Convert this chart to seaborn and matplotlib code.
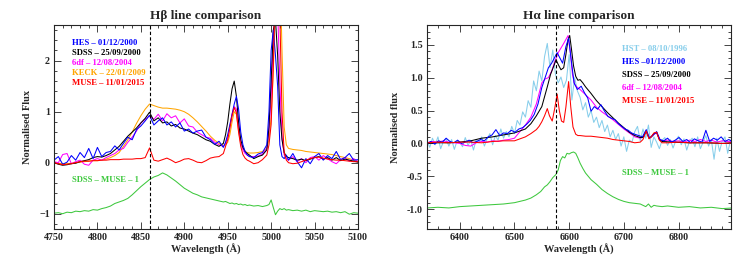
import numpy as np
import pandas as pd
import matplotlib
matplotlib.use('Agg')
import matplotlib.pyplot as plt
import seaborn as sns
from matplotlib.ticker import MultipleLocator, FormatStrFormatter

# ---------------- H-beta panel data ----------------
hb_wave = [4750, 4755, 4760, 4765, 4770, 4775, 4780, 4785, 4790, 4795,
           4800, 4805, 4810, 4815, 4820, 4825, 4830, 4835, 4840, 4845,
           4850, 4855, 4860, 4865, 4870, 4875, 4880, 4885, 4890, 4895,
           4900, 4905, 4910, 4915, 4920, 4925, 4930, 4935, 4940,
           4945, 4947.5, 4950, 4952.5, 4955, 4957.5, 4960, 4962.5, 4965, 4967.5, 4970, 4972.5, 4975,
           4980, 4985, 4990, 4995,
           4997.5, 5000, 5002.5, 5005, 5007.5, 5010, 5012.5, 5015, 5017.5,
           5020, 5025, 5030, 5035, 5040, 5045, 5050, 5055, 5060, 5065, 5070, 5075, 5080, 5085, 5090, 5095, 5100]

hb_hes = [0.05, 0.12, -0.03, 0.01, 0.14, 0.05, 0.20, 0.10, 0.28, 0.08,
          0.30, 0.12, 0.20, 0.22, 0.33, 0.25, 0.38, 0.50, 0.45, 0.65,
          0.72, 0.82, 0.93, 0.74, 0.82, 0.88, 0.74, 0.80, 0.70, 0.78,
          0.62, 0.66, 0.58, 0.62, 0.64, 0.50, 0.45, 0.36, 0.42,
          0.30, 0.40, 0.55, 0.75, 0.95, 1.15, 1.30, 1.05, 0.60, 0.35, 0.22, 0.15, 0.12,
          0.10, 0.17, 0.20, 0.35,
          1.0, 2.2, 2.6, 2.1, 1.5, 0.35, 0.12, 0.08, 0.15,
          0.05, 0.18, 0.02, -0.10, 0.08, -0.02, 0.12, 0.18, 0.05, 0.14, 0.08, 0.22, 0.06, 0.10, 0.18, 0.05, 0.06]

hb_sdss = [0.00, -0.03, -0.05, -0.04, -0.02, -0.01, 0.02, 0.04, 0.06, 0.10,
           0.12, 0.11, 0.14, 0.18, 0.25, 0.32, 0.42, 0.52, 0.60, 0.68,
           0.78, 0.87, 0.99, 0.82, 0.88, 0.78, 0.80, 0.72, 0.75, 0.68,
           0.66, 0.62, 0.58, 0.55, 0.50, 0.45, 0.42, 0.36, 0.32,
           0.38, 0.55, 0.80, 1.15, 1.45, 1.60, 1.30, 0.80, 0.45, 0.30, 0.22, 0.18, 0.15,
           0.08, 0.12, 0.15, 0.25,
           0.7, 1.6, 2.6, 2.8, 2.1, 1.0, 0.45, 0.2, 0.12,
           0.10, 0.08, 0.05, 0.07, 0.04, 0.07, 0.10, 0.12, 0.07, 0.10, 0.05, 0.10, 0.04, 0.07, 0.05, 0.03, 0.01]

hb_6df = [0.02, 0.00, 0.16, 0.18, -0.02, 0.02, 0.05, -0.03, -0.05, 0.05,
          0.08, 0.05, 0.10, 0.14, 0.18, 0.25, 0.28, 0.40, 0.50, 0.62,
          0.78, 0.85, 0.92, 0.85, 0.95, 0.82, 0.96, 0.88, 0.92, 0.78,
          0.86, 0.72, 0.70, 0.60, 0.55, 0.50, 0.48, 0.40, 0.35,
          0.32, 0.38, 0.50, 0.70, 0.95, 1.10, 1.05, 0.70, 0.40, 0.25, 0.18, 0.15, 0.12,
          0.12, 0.13, 0.17, 0.28,
          0.6, 1.3, 2.4, 3.3, 3.0, 1.6, 0.5, 0.15, 0.08,
          0.05, 0.12, 0.02, 0.08, 0.00, 0.10, 0.12, 0.05, 0.14, 0.08, 0.02, -0.02, 0.06, 0.10, 0.03, 0.08, 0.02]

hb_keck = [0.00, -0.01, -0.02, -0.02, -0.01, 0.00, 0.01, 0.02, 0.03, 0.04,
           0.04, 0.05, 0.07, 0.10, 0.14, 0.20, 0.32, 0.45, 0.60, 0.77,
           0.92, 1.05, 1.15, 1.12, 1.09, 1.07, 1.07, 1.06, 1.05, 1.03,
           1.00, 0.95, 0.88, 0.80, 0.71, 0.62, 0.52, 0.44, 0.38,
           0.34, 0.35, 0.40, 0.55, 0.80, 1.00, 0.95, 0.62, 0.38, 0.28, 0.22, 0.20, 0.19,
           0.19, 0.20, 0.22, 0.28,
           0.45, 0.9, 1.8, 3.2, 4.5, 4.0, 2.2, 0.7, 0.35,
           0.28, 0.26, 0.25, 0.24, 0.22, 0.21, 0.20, 0.19, 0.18, 0.17, 0.16, 0.14, 0.12, 0.10, 0.08, 0.05, 0.03]

hb_muse = [0.00, -0.02, -0.04, -0.03, -0.02, 0.00, 0.02, 0.03, 0.03, 0.04,
           0.04, 0.05, 0.05, 0.06, 0.06, 0.06, 0.07, 0.07, 0.07, 0.08,
           0.08, 0.10, 0.29, 0.05, 0.03, 0.06, 0.09, 0.05, 0.00, 0.03,
           0.07, 0.08, 0.05, 0.01, 0.00, 0.04, 0.09, 0.11, 0.12,
           0.18, 0.32, 0.45, 0.68, 0.92, 1.08, 0.98, 0.60, 0.32, 0.16, 0.09, 0.05, 0.03,
           -0.02, 0.00, 0.06, 0.15,
           0.35, 0.75, 1.9, 3.6, 4.2, 2.9, 1.0, 0.2, 0.05,
           0.00, -0.02, -0.01, 0.02, 0.05, 0.08, 0.10, 0.11, 0.09, 0.07, 0.06, 0.05, 0.05, 0.04, 0.03, 0.02, 0.02]

hb_diff = [-0.99, -0.98, -1.00, -0.97, -0.98, -0.95, -0.96, -0.94, -0.95, -0.92,
           -0.93, -0.90, -0.88, -0.85, -0.80, -0.77, -0.74, -0.70, -0.63, -0.55,
           -0.47, -0.40, -0.33, -0.28, -0.25, -0.20, -0.24, -0.30, -0.36, -0.43,
           -0.50, -0.55, -0.60, -0.63, -0.67, -0.69, -0.71, -0.73, -0.75,
           -0.77, -0.76, -0.78, -0.80, -0.79, -0.81, -0.80, -0.82, -0.81, -0.83, -0.82, -0.84, -0.83,
           -0.85, -0.84, -0.86, -0.84,
           -0.82, -0.73, -0.88, -1.02, -0.95, -0.90, -0.92, -0.90, -0.93,
           -0.92, -0.94, -0.93, -0.95, -0.93, -0.96, -0.94, -0.95, -0.96, -0.95, -0.97, -0.96, -0.98, -0.96, -1.01, -0.98, -0.99]

# ---------------- H-alpha panel data ----------------
ha_hst_wave = list(range(6340, 6901, 5))
ha_hst = [0.05, -0.06, 0.08, -0.02, 0.10, -0.08, 0.03, 0.07, -0.04, 0.06,
          -0.09, 0.04, 0.02, -0.05, 0.09, -0.03, 0.05, -0.10, 0.06, 0.01,
          0.10, -0.04, 0.07, 0.15, -0.02, 0.12, 0.05, 0.22, 0.08, 0.18,
          0.10, 0.26, 0.15, 0.35, 0.28, 0.48, 0.40, 0.65, 0.55, 0.95,
          0.80, 1.10, 0.95, 1.32, 1.52, 1.15, 1.42, 1.05, 0.92, 1.01,
          0.85, 0.96, 1.35, 0.66, 1.00, 0.80, 0.70, 0.51, 0.62, 0.40,
          0.50, 0.32, 0.40, 0.24, 0.35, 0.18, 0.28, 0.10, 0.20, 0.06,
          0.15, -0.04, 0.10, -0.12, 0.05, 0.02, 0.18, 0.26, 0.04, 0.22,
          0.08, 0.28, -0.06, 0.10, 0.02, -0.08, 0.05, 0.09, -0.03, 0.06,
          -0.07, 0.04, 0.11, -0.02, 0.07, -0.10, 0.03, 0.08, -0.05, 0.10,
          -0.08, 0.02, 0.12, -0.04, 0.06, -0.24, 0.08, -0.12, 0.04, 0.10,
          -0.15, 0.05, -0.08]

ha_hes_wave = [6340, 6347, 6354, 6361, 6368, 6375, 6382, 6389, 6396, 6403,
               6410, 6417, 6424, 6431, 6438, 6445, 6452, 6459, 6466, 6473,
               6480, 6487, 6494, 6501, 6508, 6515, 6522, 6529, 6536, 6543,
               6550, 6556, 6562, 6568, 6573, 6578, 6583, 6588, 6594, 6599,
               6603, 6609, 6615, 6622, 6628, 6634, 6640, 6646, 6652, 6658,
               6664, 6671, 6678, 6684, 6690, 6696, 6702, 6708, 6714, 6720,
               6727, 6734, 6741, 6747, 6753, 6760, 6766, 6773, 6780, 6787,
               6794, 6801, 6808, 6815, 6822, 6829, 6836, 6843, 6850, 6857,
               6864, 6871, 6878, 6885, 6892, 6900]
ha_hes = [0.00, 0.03, -0.01, 0.04, 0.02, 0.08, 0.03, 0.01, 0.05, 0.00,
          0.02, 0.05, 0.01, 0.03, 0.06, 0.04, 0.10, 0.13, 0.21, 0.12,
          0.16, 0.15, 0.20, 0.17, 0.22, 0.24, 0.29, 0.35, 0.44, 0.60,
          0.85, 1.00, 1.15, 1.22, 1.30, 1.38, 1.30, 1.22, 1.47, 1.60,
          1.32, 0.92, 0.82, 0.87, 0.77, 0.69, 0.49, 0.56, 0.52, 0.59,
          0.50, 0.41, 0.38, 0.36, 0.30, 0.26, 0.22, 0.20, 0.16, 0.14,
          0.12, 0.10, 0.21, 0.08, 0.12, 0.18, 0.06, 0.04, 0.08, 0.02,
          0.05, 0.09, 0.03, 0.06, 0.01, 0.07, 0.04, 0.02, 0.20, 0.03,
          0.08, 0.05, 0.10, 0.03, 0.06, 0.02]

ha_sdss_wave = [6340, 6360, 6380, 6400, 6420, 6440, 6460, 6480, 6500, 6510,
                6520, 6530, 6540, 6550, 6560, 6566, 6572, 6576, 6580, 6585,
                6590, 6594, 6598, 6601, 6604, 6608, 6612, 6616, 6620, 6625,
                6630, 6640, 6650, 6660, 6670, 6680, 6690, 6700, 6710, 6720,
                6730, 6735, 6741, 6746, 6750, 6755, 6760, 6765, 6770, 6790,
                6820, 6850, 6880, 6900]
ha_sdss = [0.00, 0.01, 0.01, 0.02, 0.04, 0.08, 0.10, 0.13, 0.16, 0.19,
           0.22, 0.30, 0.42, 0.56, 0.86, 1.05, 1.18, 1.27, 1.20, 1.12,
           1.15, 1.35, 1.58, 1.64, 1.45, 1.18, 1.02, 0.96, 0.97, 0.92,
           0.86, 0.76, 0.65, 0.56, 0.47, 0.39, 0.31, 0.24, 0.17, 0.12,
           0.09, 0.09, 0.19, 0.08, 0.10, 0.15, 0.17, 0.06, 0.03, 0.02,
           0.01, 0.01, 0.00, 0.01]

ha_6df_wave = [6340, 6350, 6360, 6370, 6380, 6390, 6400, 6410, 6420, 6430,
               6440, 6450, 6460, 6470, 6480, 6490, 6500, 6510, 6520, 6530,
               6540, 6550, 6556, 6562, 6568, 6574, 6580, 6585, 6590, 6594,
               6598, 6602, 6606, 6610, 6615, 6620, 6630, 6640, 6650, 6660,
               6670, 6680, 6690, 6700, 6710, 6720, 6730, 6735, 6741, 6746,
               6750, 6755, 6760, 6765, 6770, 6780, 6790, 6800, 6810, 6820,
               6830, 6840, 6850, 6860, 6870, 6880, 6890, 6900]
ha_6df = [0.01, 0.03, 0.02, 0.04, 0.02, 0.01, 0.00, -0.03, -0.04, 0.01,
          0.03, 0.02, 0.04, 0.03, 0.05, 0.06, 0.08, 0.18, 0.28, 0.40,
          0.60, 0.92, 0.98, 1.00, 1.10, 1.25, 1.38, 1.45, 1.52, 1.58,
          1.64, 1.40, 1.05, 0.90, 0.85, 0.82, 0.74, 0.66, 0.55, 0.48,
          0.42, 0.36, 0.29, 0.22, 0.16, 0.10, 0.08, 0.10, 0.18, 0.09,
          0.10, 0.14, 0.16, 0.07, 0.04, 0.05, 0.03, 0.04, 0.02, 0.05,
          0.03, 0.06, 0.03, 0.05, 0.02, 0.04, 0.03, 0.02]

ha_muse_wave = [6340, 6360, 6380, 6400, 6420, 6440, 6460, 6480, 6490, 6500,
                6510, 6520, 6530, 6540, 6545, 6550, 6555, 6560, 6564, 6569,
                6574, 6578, 6582, 6586, 6590, 6594, 6599, 6603, 6607, 6612,
                6616, 6620, 6630, 6640, 6650, 6660, 6670, 6680, 6690, 6700,
                6710, 6720, 6730, 6735, 6741, 6746, 6750, 6755, 6760, 6765,
                6770, 6780, 6800, 6820, 6840, 6860, 6880, 6900]
ha_muse = [0.01, 0.02, 0.01, 0.02, 0.02, 0.01, 0.03, 0.04, 0.04, 0.04,
           0.07, 0.10, 0.15, 0.21, 0.26, 0.33, 0.42, 0.53, 0.42, 0.34,
           0.55, 0.75, 0.50, 0.34, 0.32, 0.55, 0.94, 0.55, 0.25, 0.14,
           0.12, 0.12, 0.11, 0.11, 0.10, 0.09, 0.08, 0.06, 0.05, 0.04,
           0.03, 0.01, 0.02, 0.06, 0.19, 0.07, 0.10, 0.16, 0.17, 0.05,
           0.01, 0.01, 0.02, 0.01, 0.01, 0.01, 0.00, 0.01]

ha_diff_wave = [6340, 6360, 6380, 6400, 6420, 6440, 6460, 6480, 6500,
                6510, 6520, 6530, 6540, 6548, 6555, 6560, 6565, 6570, 6576,
                6580, 6584, 6588, 6592, 6596, 6600, 6604, 6608, 6612, 6616,
                6620, 6625, 6630, 6640, 6650, 6660, 6670, 6680, 6690, 6700,
                6710, 6720, 6730, 6740, 6745, 6750, 6755, 6760, 6770, 6780,
                6800, 6820, 6840, 6860, 6880, 6900]
ha_diff = [-0.98, -0.97, -0.98, -0.96, -0.95, -0.94, -0.93, -0.92, -0.90,
           -0.88, -0.86, -0.83, -0.78, -0.73, -0.66, -0.63, -0.58, -0.52, -0.47,
           -0.40, -0.26, -0.20, -0.22, -0.15, -0.16, -0.14, -0.13, -0.15, -0.22,
           -0.30, -0.38, -0.45, -0.55, -0.62, -0.70, -0.76, -0.81, -0.85, -0.88,
           -0.90, -0.91, -0.92, -0.96, -0.92, -0.97, -0.94, -0.95, -0.96, -0.95,
           -0.97, -0.96, -0.98, -0.97, -0.99, -0.98]

C_HST = '#87ceeb'
C_HES = '#0000ff'
C_SDSS = '#000000'
C_6DF = '#ff00ff'
C_KECK = '#ffa500'
C_MUSE = '#ff0000'
C_DIFF = '#3ec83e'

sns.set_style('ticks')
plt.rcParams['font.family'] = ['Liberation Serif', 'DejaVu Serif']
plt.rcParams['font.weight'] = 'bold'
plt.rcParams['axes.labelweight'] = 'bold'
plt.rcParams['axes.titleweight'] = 'bold'

fig = plt.figure(figsize=(7.47, 2.72), dpi=100)
ax1 = fig.add_axes([54/747, 1-229/272, 304/747, 204/272])
ax2 = fig.add_axes([427/747, 1-229/272, 304/747, 204/272])

lw = 0.75
leg_fs = 6.2


def draw(ax, x, y, color):
    sns.lineplot(x=x, y=y, ax=ax, color=color, lw=lw, sort=False,
                 estimator=None, legend=False)


# H-beta
for y, c in [(hb_keck, C_KECK), (hb_6df, C_6DF), (hb_sdss, C_SDSS),
             (hb_hes, C_HES), (hb_muse, C_MUSE), (hb_diff, C_DIFF)]:
    draw(ax1, hb_wave, y, c)
ax1.axvline(4860, color='black', ls=(0, (3, 2)), lw=0.8)
ax1.set_xlim(4750, 5100)
ax1.set_ylim(-1.3, 2.7)
ax1.xaxis.set_major_locator(MultipleLocator(50))
ax1.xaxis.set_minor_locator(MultipleLocator(10))
ax1.yaxis.set_major_locator(MultipleLocator(1))
ax1.yaxis.set_minor_locator(MultipleLocator(0.2))
ax1.set_title('Hβ line comparison', fontsize=9.5, pad=4)
ax1.set_ylabel('Normalised Flux', fontsize=7.5, labelpad=5)

labels1 = [('HES – 01/12/2000', C_HES), ('SDSS – 25/09/2000', C_SDSS),
           ('6df – 12/08/2004', C_6DF), ('KECK – 22/01/2009', C_KECK),
           ('MUSE – 11/01/2015', C_MUSE)]
for i, (t, c) in enumerate(labels1):
    ax1.text(0.058, 0.91 - i*0.049, t, color=c, fontsize=leg_fs, fontweight='bold',
             transform=ax1.transAxes, va='center', ha='left')
ax1.text(0.058, 0.24, 'SDSS – MUSE – 1', color=C_DIFF, fontsize=leg_fs,
         fontweight='bold', transform=ax1.transAxes, va='center', ha='left')

# H-alpha
draw(ax2, ha_hst_wave, ha_hst, C_HST)
draw(ax2, ha_6df_wave, ha_6df, C_6DF)
draw(ax2, ha_sdss_wave, ha_sdss, C_SDSS)
draw(ax2, ha_hes_wave, ha_hes, C_HES)
draw(ax2, ha_muse_wave, ha_muse, C_MUSE)
draw(ax2, ha_diff_wave, ha_diff, C_DIFF)
ax2.axvline(6576, color='black', ls=(0, (3, 2)), lw=0.8)
ax2.set_xlim(6340, 6896)
ax2.set_ylim(-1.3, 1.8)
ax2.xaxis.set_major_locator(MultipleLocator(100))
ax2.xaxis.set_minor_locator(MultipleLocator(20))
ax2.yaxis.set_major_locator(MultipleLocator(0.5))
ax2.yaxis.set_minor_locator(MultipleLocator(0.1))
ax2.yaxis.set_major_formatter(FormatStrFormatter('%.1f'))
ax2.set_title('Hα line comparison', fontsize=9.5, pad=4)
ax2.set_ylabel('Normalised flux', fontsize=7.5, labelpad=5)

labels2 = [('HST – 08/10/1996', C_HST), ('HES –01/12/2000', C_HES),
           ('SDSS – 25/09/2000', C_SDSS), ('6df – 12/08/2004', C_6DF),
           ('MUSE – 11/01/2015', C_MUSE)]
for i, (t, c) in enumerate(labels2):
    ax2.text(0.641, 0.881 - i*0.063, t, color=c, fontsize=leg_fs, fontweight='bold',
             transform=ax2.transAxes, va='center', ha='left')
ax2.text(0.641, 0.273, 'SDSS – MUSE – 1', color=C_DIFF, fontsize=leg_fs,
         fontweight='bold', transform=ax2.transAxes, va='center', ha='left')

for ax in (ax1, ax2):
    ax.set_xlabel('Wavelength (Å)', fontsize=7.5, labelpad=1)
    ax.tick_params(which='both', direction='in', top=True, right=True,
                   labelsize=7.2, width=0.6, pad=3)
    ax.tick_params(which='major', length=5)
    ax.tick_params(which='minor', length=2.5)
    for s in ax.spines.values():
        s.set_linewidth(0.8)
    for lab in ax.get_xticklabels() + ax.get_yticklabels():
        lab.set_fontweight('bold')

fig.savefig('out.png', dpi=100)
